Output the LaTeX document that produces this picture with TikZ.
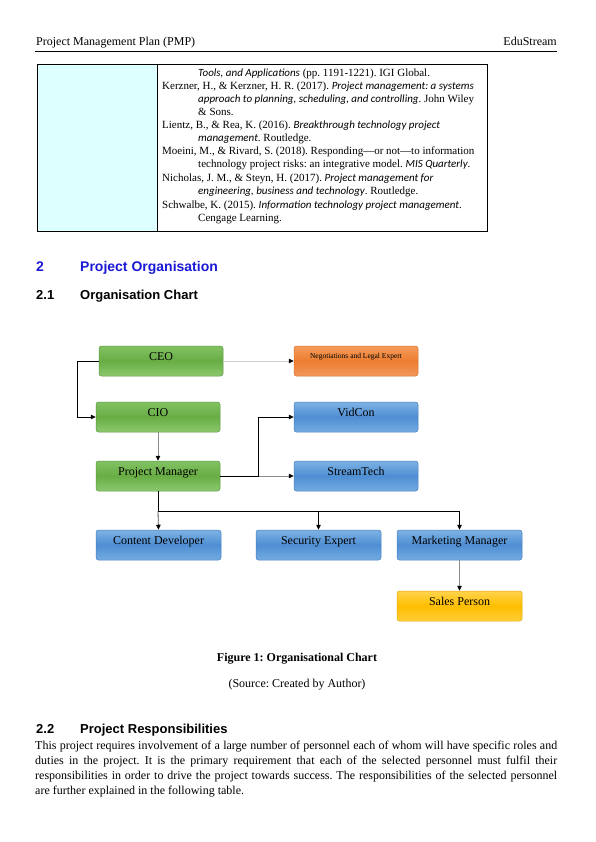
\documentclass[tikz,border=0pt]{standalone}
\usepackage{fontspec}
\setmainfont{Liberation Serif}
\setsansfont{Liberation Sans}
\newfontfamily\myitfont{Carlito}
\newcommand\myit[1]{{\myitfont\itshape #1}}
\usetikzlibrary{arrows.meta}
\definecolor{grnT}{HTML}{82C263}
\definecolor{grnM}{HTML}{68AD44}
\definecolor{grnBt}{HTML}{8CC96E}
\definecolor{grnD}{HTML}{5E9A44}
\definecolor{orgT}{HTML}{F49C5E}
\definecolor{orgM}{HTML}{EC7D2F}
\definecolor{orgBt}{HTML}{F3975C}
\definecolor{orgD}{HTML}{D9762E}
\definecolor{bluT}{HTML}{7DB2E4}
\definecolor{bluM}{HTML}{4E8ED3}
\definecolor{bluBt}{HTML}{74ACE2}
\definecolor{bluD}{HTML}{4A80BF}
\definecolor{ylwT}{HTML}{FFD34C}
\definecolor{ylwM}{HTML}{FFBE00}
\definecolor{ylwBt}{HTML}{FFCD36}
\definecolor{ylwD}{HTML}{E0AA10}
\definecolor{cellcyan}{HTML}{DDFFFF}
\definecolor{headblue}{HTML}{1A1AD6}
\frenchspacing
\begin{document}
\begin{tikzpicture}[x=1pt,y=-1pt,
  txt/.style={anchor=base west,inner sep=0pt,font=\fontsize{11}{13}\selectfont},
  body/.style={anchor=base west,inner sep=0pt,font=\fontsize{12}{15}\selectfont},
  box/.style={rounded corners=2.5pt,minimum width=124pt,minimum height=30pt,inner sep=0pt,
    text height=8.5pt,text depth=10pt,font=\fontsize{12}{14}\selectfont,line width=0.5pt},
  greenbox/.style={box,draw=grnD,top color=grnT,bottom color=grnBt,middle color=grnM},
  orangebox/.style={box,draw=orgD,top color=orgT,bottom color=orgBt,middle color=orgM},
  bluebox/.style={box,draw=bluD,top color=bluT,bottom color=bluBt,middle color=bluM},
  yellowbox/.style={box,draw=ylwD,top color=ylwT,bottom color=ylwBt,middle color=ylwM},
  conn/.style={line width=0.8pt,-{Triangle[length=5pt,width=4.5pt,color=black]}},
  blk/.style={conn,draw=black},
  gry/.style={conn,draw=black!45},
  lgry/.style={conn,draw=black!18},
  heada/.style={anchor=base west,inner sep=0pt,font=\sffamily\bfseries\fontsize{14}{16}\selectfont,text=headblue},
  headb/.style={anchor=base west,inner sep=0pt,font=\sffamily\bfseries\fontsize{13}{15}\selectfont},
]
\useasboundingbox (0,0) rectangle (596,842);
\fill[white] (0,0) rectangle (596,842);

% header
\node[body] (hl) at (36,46) {Project Management Plan (PMP)};
\node[body,anchor=base east] (hr) at (557,46) {EduStream};
\coordinate (rl) at (35,51);
\coordinate (rr) at (557,51);
\draw[line width=0.7pt] (rl) -- (rr);

% table
\fill[cellcyan] (37,65) rectangle (157,231);
\draw[line width=1pt] (37,65) rectangle (487,231);
\draw[line width=1pt] (157,65) -- (157,231);
\node[txt] (t1) at (198,77) {\myit{Tools, and Applications} (pp. 1191-1221). IGI Global.};
\node[txt] (t2) at (162,89.5) {Kerzner, H., \& Kerzner, H. R. (2017). \myit{Project management: a systems}};
\node[txt] (t3) at (198,103) {\myit{approach to planning, scheduling, and controlling}. John Wiley};
\node[txt] (t4) at (198,115.5) {\& Sons.};
\node[txt] (t5) at (162,128.5) {Lientz, B., \& Rea, K. (2016). \myit{Breakthrough technology project}};
\node[txt] (t6) at (198,141.5) {\myit{management}. Routledge.};
\node[txt] (t7) at (162,155) {Moeini, M., \& Rivard, S. (2018). Responding---or not---to information};
\node[txt] (t8) at (198,167.5) {technology project risks: an integrative model. \myit{MIS Quarterly}.};
\node[txt] (t9) at (162,181.5) {Nicholas, J. M., \& Steyn, H. (2017). \myit{Project management for}};
\node[txt] (t10) at (198,195) {\myit{engineering, business and technology}. Routledge.};
\node[txt] (t11) at (162,209) {Schwalbe, K. (2015). \myit{Information technology project management}.};
\node[txt] (t12) at (198,222) {Cengage Learning.};

% headings
\node[heada] (h2n) at (36,271) {2};
\node[heada] (h2t) at (80,271) {Project Organisation};
\node[headb] (h21n) at (36,299) {2.1};
\node[headb] (h21t) at (80,299) {Organisation Chart};

% chart nodes
\node[greenbox] (ceo) at (161,361) {CEO};
\node[orangebox,font=\fontsize{7.5}{8.5}\selectfont,text height=5.5pt,text depth=10.5pt] (neg) at (356,361) {Negotiations and Legal Expert};
\node[greenbox] (cio) at (158,417) {CIO};
\node[bluebox] (vid) at (356,417) {VidCon};
\node[greenbox] (pm) at (158,476) {Project Manager};
\node[bluebox] (st) at (356,476) {StreamTech};
\node[bluebox,minimum width=125pt] (cd) at (158.5,545) {Content Developer};
\node[bluebox,minimum width=125pt] (sec) at (318.5,545) {Security Expert};
\node[bluebox,minimum width=125pt] (mm) at (459.5,545) {Marketing Manager};
\node[yellowbox,minimum width=125pt] (sp) at (459.5,606) {Sales Person};

% connectors
\draw[lgry] (ceo.east) -- (neg.west);
\draw[blk] (ceo.west) -- ++(-21,0) |- (cio.west);
\draw[gry] (cio.south) -- (pm.north);
\draw[gry] (pm.east) -- (st.west);
\draw[blk] (pm.east) -- ++(38,0) |- (vid.west);
\coordinate (bus) at (158,511);
\draw[line width=0.8pt] (pm.south) -- (bus);
\draw[blk] (bus) -| (mm.north);
\draw[blk] (bus) -| (sec.north);
\draw[conn,draw=black!70] (bus) -- (cd.north);
\draw[gry] (mm.south) -- (sp.north);

% caption
\node[anchor=base,inner sep=0pt,font=\bfseries\fontsize{12}{14}\selectfont] (cap) at (297,661) {Figure 1: Organisational Chart};
\node[anchor=base,inner sep=0pt,font=\fontsize{12}{15}\selectfont] (src) at (297,687) {(Source: Created by Author)};

% section 2.2
\node[headb] (h22n) at (36,733) {2.2};
\node[headb] (h22t) at (80,733) {Project Responsibilities};
\node[body] (p1) at (35,749) {\hbox to 522pt{This project requires involvement of a large number of personnel each of whom will have specific roles and}};
\node[body] (p2) at (35,764) {\hbox to 522pt{duties in the project. It is the primary requirement that each of the selected personnel must fulfil their}};
\node[body] (p3) at (35,779) {\hbox to 522pt{responsibilities in order to drive the project towards success. The responsibilities of the selected personnel}};
\node[body] (p4) at (35,794) {are further explained in the following table.};
\end{tikzpicture}
\end{document}
